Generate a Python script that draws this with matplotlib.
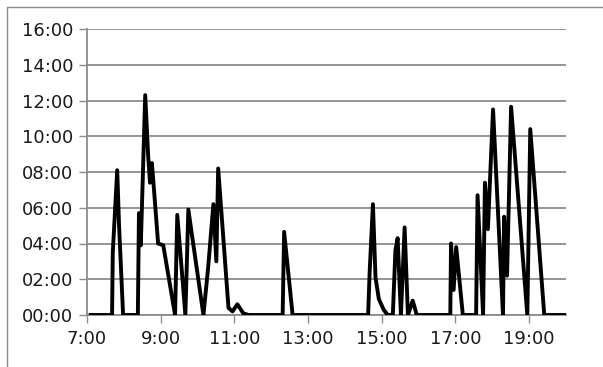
import matplotlib
matplotlib.use("Agg")
import matplotlib.pyplot as plt
from matplotlib.patches import Rectangle

# time of day (hours) and duration value (hours)
times = [7.10, 7.68, 7.70, 7.82, 7.87, 7.98, 8.38, 8.41, 8.46, 8.58,
         8.66, 8.71, 8.76, 8.80, 8.93, 9.07, 9.39, 9.45, 9.67, 9.75,
         10.16, 10.29, 10.43, 10.51, 10.56, 10.84, 10.95, 11.08, 11.24, 11.38,
         12.31, 12.35, 12.58, 14.63, 14.67, 14.76, 14.83, 14.92, 15.05, 15.16,
         15.30, 15.37, 15.43, 15.52, 15.62, 15.71, 15.84, 15.95, 16.86, 16.88,
         16.95, 17.02, 17.20, 17.56, 17.60, 17.75, 17.80, 17.88, 18.02, 18.29,
         18.32, 18.40, 18.51, 18.95, 19.03, 19.41, 20.00]
values = [0, 0, 3.5, 8.1, 5.0, 0, 0, 5.7, 3.9, 12.3,
          8.9, 7.4, 8.5, 7.5, 4.0, 3.9, 0, 5.6, 0, 5.9,
          0, 2.7, 6.2, 3.0, 8.2, 0.4, 0.2, 0.6, 0.1, 0,
          0, 4.65, 0, 0, 2.35, 6.2, 2.1, 0.9, 0.3, 0,
          0, 3.6, 4.3, 0, 4.9, 0, 0.8, 0, 0, 4.0,
          1.4, 3.8, 0, 0, 6.7, 0, 7.4, 4.8, 11.5, 0,
          5.5, 2.2, 11.65, 0, 10.4, 0, 0]

x_ticks = [7, 9, 11, 13, 15, 17, 19]
x_labels = ["7:00", "9:00", "11:00", "13:00", "15:00", "17:00", "19:00"]
y_ticks = [0, 2, 4, 6, 8, 10, 12, 14, 16]
y_labels = ["00:00", "02:00", "04:00", "06:00", "08:00", "10:00", "12:00", "14:00", "16:00"]

W, H = 603, 367
fig = plt.figure(figsize=(W / 100, H / 100), dpi=100)
ax = fig.add_axes([87 / W, 52 / H, (566 - 87) / W, (315 - 29) / H])

# outer chart border
fig.patches.append(Rectangle((7 / W, -0.1), 1.2, (H - 7) / H + 0.1,
                             transform=fig.transFigure, fill=False,
                             edgecolor="#8c8c8c", lw=1.0))

grid_c = "#8c8c8c"
ax.plot(times, values, color="black", lw=2.8, solid_joinstyle="round", zorder=3)

ax.set_xlim(7, 20)
ax.set_ylim(0, 16)
ax.set_xticks(x_ticks)
ax.set_xticklabels(x_labels)
ax.set_yticks(y_ticks)
ax.set_yticklabels(y_labels)

ax.yaxis.grid(True, color=grid_c, lw=1.3)
ax.set_axisbelow(True)
for s in ["top", "right"]:
    ax.spines[s].set_visible(False)
for s in ["left", "bottom"]:
    ax.spines[s].set_color(grid_c)
    ax.spines[s].set_linewidth(1.3)

ax.tick_params(axis="both", colors=grid_c, labelcolor="#1a1a1a",
               labelsize=13, length=6, width=1.0)
ax.tick_params(axis="y", pad=4)
ax.tick_params(axis="x", pad=5)

fig.savefig("out.png", dpi=100)
